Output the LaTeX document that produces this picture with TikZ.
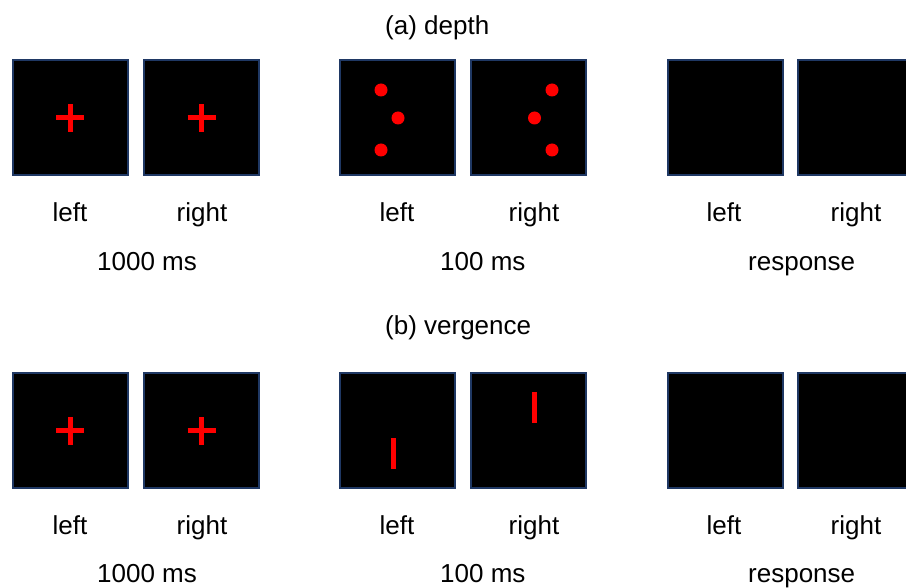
\documentclass[tikz,border=0pt]{standalone}
\usepackage{fontspec}
\setmainfont{Liberation Sans}
\definecolor{screenedge}{RGB}{31,56,100}
\begin{document}
\begin{tikzpicture}[x=1pt,y=-1pt,
	screen/.style={rectangle,draw=screenedge,fill=black,line width=2pt,
		minimum size=115pt,inner sep=0},
	lbl/.style={font=\fontsize{26}{30}\selectfont,inner sep=0,anchor=base},
	stim/.style={red,line width=5pt},
	dot/.style={circle,fill=red,minimum size=13pt,inner sep=0}]
\useasboundingbox (0,0) rectangle (906,588);
\clip (0,0) rectangle (906,588);
% (a) depth
\node[lbl,anchor=base west] (ta) at (385,35) {(a) depth};
\foreach \n/\x in {1/70,2/201.5,3/397.5,4/528.5,5/725,6/855.5}
	\node[screen] (a\n) at (\x,118) {};
\draw[stim] ([xshift=-14]a1.center) -- ([xshift=14]a1.center)
	([yshift=-14]a1.center) -- ([yshift=14]a1.center);
\draw[stim] ([xshift=-14]a2.center) -- ([xshift=14]a2.center)
	([yshift=-14]a2.center) -- ([yshift=14]a2.center);
\node[dot] (d1) at (381,90) {};
\node[dot] (d2) at (398,118) {};
\node[dot] (d3) at (381,150) {};
\node[dot] (d4) at (552,90) {};
\node[dot] (d5) at (534.5,118) {};
\node[dot] (d6) at (552,150) {};
\foreach \n/\x in {1/70,3/397,5/724}
	\node[lbl] (la\n) at (\x,222) {left};
\foreach \n/\x in {2/202,4/534,6/856}
	\node[lbl] (ra\n) at (\x,222) {right};
\node[lbl,anchor=base west] (ma1) at (97,271) {1000 ms};
\node[lbl,anchor=base west] (ma2) at (440,271) {100 ms};
\node[lbl,anchor=base west] (ma3) at (748,271) {response};
% (b) vergence
\node[lbl,anchor=base west] (tb) at (385,335) {(b) vergence};
\foreach \n/\x in {1/70,2/201.5,3/397.5,4/528.5,5/725,6/855.5}
	\node[screen] (b\n) at (\x,430.5) {};
\draw[stim] ([xshift=-14]b1.center) -- ([xshift=14]b1.center)
	([yshift=-14]b1.center) -- ([yshift=14]b1.center);
\draw[stim] ([xshift=-14]b2.center) -- ([xshift=14]b2.center)
	([yshift=-14]b2.center) -- ([yshift=14]b2.center);
\draw[stim] (393,438) -- (393,469);
\draw[stim] (534.5,392) -- (534.5,423);
\foreach \n/\x in {1/70,3/397,5/724}
	\node[lbl] (lb\n) at (\x,534) {left};
\foreach \n/\x in {2/202,4/534,6/856}
	\node[lbl] (rb\n) at (\x,534) {right};
\node[lbl,anchor=base west] (mb1) at (97,582) {1000 ms};
\node[lbl,anchor=base west] (mb2) at (440,582) {100 ms};
\node[lbl,anchor=base west] (mb3) at (748,582) {response};
\end{tikzpicture}
\end{document}
